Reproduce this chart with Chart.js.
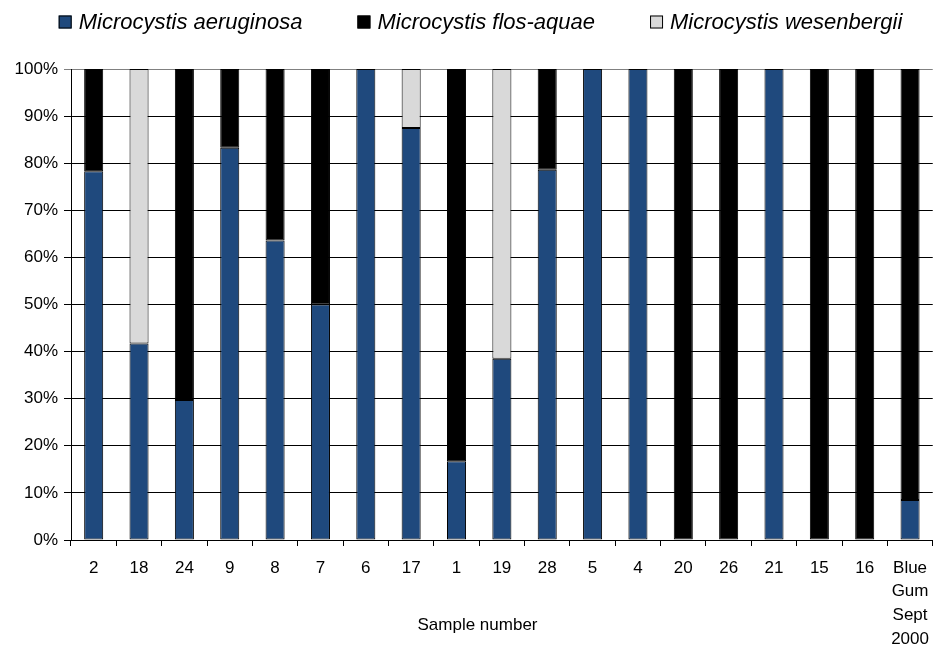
<!DOCTYPE html>
<html>
<head>
<meta charset="utf-8">
<script src="https://cdn.jsdelivr.net/npm/chart.js@4"></script>
<style>
  html, body { margin: 0; padding: 0; background: #fff; }
  #wrap { width: 939px; height: 648px; }
</style>
</head>
<body>
<div id="wrap"><canvas id="speciesChart" width="939" height="648"></canvas></div>
<script>
// 样品编号（最后一个是多行标签）
const samples = ['2', '18', '24', '9', '8', '7', '6', '17', '1', '19', '28', '5', '4', '20', '26', '21', '15', '16', ['Blue', 'Gum', 'Sept', '2000']]

// 各种类所占百分比
const aeruginosa = [78.3, 41.7, 29.7, 83.3, 63.6, 50, 100, 87.5, 16.7, 38.5, 78.6, 100, 100, 0, 0, 100, 0, 0, 8.5]
const flosAquae = [21.7, 0, 70.3, 16.7, 36.4, 50, 0, 0, 83.3, 0, 21.4, 0, 0, 100, 100, 0, 100, 100, 91.5]
const wesenbergii = [0, 58.3, 0, 0, 0, 0, 0, 12.5, 0, 61.5, 0, 0, 0, 0, 0, 0, 0, 0, 0]

const speciesNames = ['Microcystis aeruginosa', 'Microcystis flos-aquae', 'Microcystis wesenbergii']
const speciesColors = ['#1f497d', '#000000', '#d9d9d9']

const yTicks = [0, 10, 20, 30, 40, 50, 60, 70, 80, 90, 100]

const FONT = 'Liberation Sans, Arial, sans-serif'

// 顶部图例：方块 + 斜体文字
const speciesLegend = {
  id: 'speciesLegend',
  afterDraw(chart) {
    const ctx = chart.ctx
    const box = 13
    const gap = 7
    const spacing = 55
    ctx.save()
    ctx.font = 'italic 22px ' + FONT
    const widths = speciesNames.map(n => ctx.measureText(n).width)
    const total = widths.reduce((s, w) => s + box + gap + w, 0) + spacing * (widths.length - 1)
    let x = chart.width / 2 + 11 - total / 2
    const y = 22
    speciesNames.forEach((name, i) => {
      ctx.fillStyle = speciesColors[i]
      ctx.fillRect(x, y - box / 2, box, box)
      ctx.strokeStyle = '#000'
      ctx.lineWidth = 1
      ctx.strokeRect(x + 0.5, y - box / 2 + 0.5, box - 1, box - 1)
      ctx.fillStyle = '#000'
      ctx.textBaseline = 'middle'
      ctx.textAlign = 'left'
      ctx.fillText(name, x + box + gap, y + 1)
      x += box + gap + widths[i] + spacing
    })
    ctx.restore()
  }
}

// 横轴标题
const axisTitle = {
  id: 'axisTitle',
  afterDraw(chart) {
    const ctx = chart.ctx
    ctx.save()
    ctx.font = '17px ' + FONT
    ctx.fillStyle = '#000'
    ctx.textAlign = 'center'
    ctx.textBaseline = 'middle'
    ctx.fillText('Sample number', chart.width / 2 + 8, 625)
    ctx.restore()
  }
}

const datasets = [aeruginosa, flosAquae, wesenbergii].map((data, i) => ({
  label: speciesNames[i],
  data: data,
  backgroundColor: speciesColors[i],
  borderColor: '#000',
  borderWidth: 1,
  borderSkipped: false,
  barPercentage: 0.42,
  categoryPercentage: 1
}))

new Chart(document.getElementById('speciesChart'), {
  type: 'bar',
  data: {
    labels: samples,
    datasets: datasets
  },
  options: {
    responsive: false,
    animation: false,
    layout: {
      padding: { top: 69, right: 1, bottom: 0, left: 0 }
    },
    plugins: {
      legend: { display: false },
      tooltip: { enabled: false }
    },
    scales: {
      x: {
        stacked: true,
        afterFit: scale => { scale.height = 108 },
        grid: {
          offset: true,
          drawOnChartArea: false,
          drawTicks: true,
          tickLength: 6,
          color: '#000'
        },
        border: { display: true, color: '#000', width: 1 },
        ticks: {
          autoSkip: false,
          maxRotation: 0,
          padding: 10,
          color: '#000',
          font: { family: FONT, size: 17, lineHeight: 1.4 }
        }
      },
      y: {
        stacked: true,
        min: 0,
        max: 100,
        afterFit: scale => { scale.width = 71 },
        afterBuildTicks: scale => { scale.ticks = yTicks.map(v => ({ value: v })) },
        grid: {
          color: ctx => (ctx.tick && ctx.tick.value === 100 ? '#808080' : '#000'),
          tickLength: 7,
          drawTicks: true
        },
        border: { display: true, color: '#000', width: 1 },
        ticks: {
          padding: 6,
          color: '#000',
          font: { family: FONT, size: 17 },
          callback: v => v + '%'
        }
      }
    }
  },
  plugins: [speciesLegend, axisTitle]
})
</script>
</body>
</html>
